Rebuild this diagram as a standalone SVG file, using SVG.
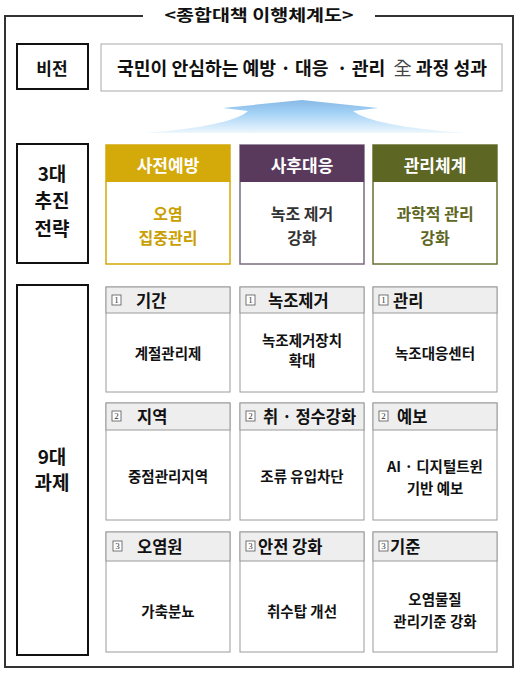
<svg xmlns="http://www.w3.org/2000/svg" width="530" height="675" viewBox="0 0 530 675">
<defs>
<linearGradient id="ag" x1="0" y1="0" x2="0" y2="1">
<stop offset="0" stop-color="#86b9e6"/>
<stop offset="0.4" stop-color="#a4d2f6"/>
<stop offset="1" stop-color="#eef7fd"/>
</linearGradient>
<style>
text{font-family:"Noto Sans CJK KR","Noto Sans",sans-serif;font-weight:bold;text-anchor:middle;dominant-baseline:central;fill:#111}
.lab{fill:#fff;stroke:#111;stroke-width:2}
.hd{fill:#eeeeee;stroke:#9a9a9a;stroke-width:1}
.bd{fill:#fff;stroke:#9a9a9a;stroke-width:1}
.ht{font-size:16.5px;text-anchor:start}
.bt{font-size:14.5px}
.nb{fill:#fff;stroke:#555;stroke-width:0.8}
.nt{font-family:"Liberation Serif",serif;font-weight:normal;font-size:9px;fill:#333}
.st{font-size:17px;fill:#fff}
.sb{font-size:16px}
</style>
</defs>
<rect width="530" height="675" fill="#fff"/>
<g id="frame">
<path d="M143,16 H5 V667 H513 V16 H375" fill="none" stroke="#333" stroke-width="2"/>
<text x="259" y="14" font-size="16" textLength="189" lengthAdjust="spacingAndGlyphs">&lt;종합대책 이행체계도&gt;</text>
</g>
<g id="vision-label">
<rect class="lab" x="17" y="44" width="71" height="45"/>
<text x="52" y="67" font-size="17">비전</text>
</g>
<g id="vision">
<rect x="101" y="44" width="401" height="47" fill="#fff" stroke="#aaa" stroke-width="1"/>
<text x="302" y="67" font-size="18" textLength="370" lengthAdjust="spacingAndGlyphs" xml:space="preserve">국민이 안심하는 예방 · 대응  · 관리  <tspan font-weight="normal" fill="#444">全</tspan> 과정 성과</text>
</g>
<g id="arrow">
<path d="M302,100 L223,108 L248,111 Q232,126 145,133 L465,133 Q372,126 353,111 L378,108 Z" fill="url(#ag)"/>
</g>
<g id="strategy-label">
<rect class="lab" x="17" y="144" width="71" height="119"/>
<text x="52" y="172" font-size="19">3대</text>
<text x="52" y="199" font-size="19">추진</text>
<text x="52" y="227" font-size="19">전략</text>
</g>
<g id="s1">
<rect x="106" y="145" width="124" height="119" fill="#fff" stroke="#d4a90a" stroke-width="1.5"/>
<rect x="106" y="145" width="124" height="37" fill="#d4a90a"/>
<text class="st" x="168" y="164">사전예방</text>
<text class="sb" x="168" y="213" style="fill:#c9a000">오염</text>
<text class="sb" x="168" y="237" style="fill:#c9a000">집중관리</text>
</g>
<g id="s2">
<rect x="240" y="145" width="124" height="119" fill="#fff" stroke="#7a6a80" stroke-width="1.5"/>
<rect x="240" y="145" width="124" height="37" fill="#5a3a5c"/>
<text class="st" x="302" y="164">사후대응</text>
<text class="sb" x="302" y="213" style="fill:#333">녹조 제거</text>
<text class="sb" x="302" y="237" style="fill:#333">강화</text>
</g>
<g id="s3">
<rect x="373" y="145" width="124" height="119" fill="#fff" stroke="#6b7030" stroke-width="1.5"/>
<rect x="373" y="145" width="124" height="37" fill="#5e6623"/>
<text class="st" x="435" y="164">관리체계</text>
<text class="sb" x="435" y="213" style="fill:#5e6623">과학적 관리</text>
<text class="sb" x="435" y="237" style="fill:#5e6623">강화</text>
</g>
<g id="task-label">
<rect class="lab" x="17" y="285" width="71" height="370"/>
<text x="52" y="455" font-size="19">9대</text>
<text x="52" y="481" font-size="19">과제</text>
</g>
<!-- row 1 -->
<g id="t11">
<rect class="bd" x="106" y="287" width="124" height="105"/>
<rect class="hd" x="106" y="287" width="124" height="26"/>
<rect class="nb" x="112" y="295" width="9" height="10"/><text class="nt" x="116.5" y="300">1</text>
<text class="ht" x="136" y="300">기간</text>
<text class="bt" x="168" y="352">계절관리제</text>
</g>
<g id="t12">
<rect class="bd" x="240" y="287" width="124" height="105"/>
<rect class="hd" x="240" y="287" width="124" height="26"/>
<rect class="nb" x="246" y="295" width="9" height="10"/><text class="nt" x="250.5" y="300">1</text>
<text class="ht" x="268" y="300">녹조제거</text>
<text class="bt" x="302" y="339">녹조제거장치</text>
<text class="bt" x="302" y="359">확대</text>
</g>
<g id="t13">
<rect class="bd" x="373" y="287" width="124" height="105"/>
<rect class="hd" x="373" y="287" width="124" height="26"/>
<rect class="nb" x="379" y="295" width="9" height="10"/><text class="nt" x="383.5" y="300">1</text>
<text class="ht" x="393" y="300">관리</text>
<text class="bt" x="435" y="352">녹조대응센터</text>
</g>
<!-- row 2 -->
<g id="t21">
<rect class="bd" x="106" y="403" width="124" height="117"/>
<rect class="hd" x="106" y="403" width="124" height="27"/>
<rect class="nb" x="112" y="411" width="9" height="10"/><text class="nt" x="116.5" y="416">2</text>
<text class="ht" x="137" y="416">지역</text>
<text class="bt" x="168" y="475">중점관리지역</text>
</g>
<g id="t22">
<rect class="bd" x="240" y="403" width="124" height="117"/>
<rect class="hd" x="240" y="403" width="124" height="27"/>
<rect class="nb" x="246" y="411" width="9" height="10"/><text class="nt" x="250.5" y="416">2</text>
<text class="ht" x="263" y="416">취 · 정수강화</text>
<text class="bt" x="302" y="475">조류 유입차단</text>
</g>
<g id="t23">
<rect class="bd" x="373" y="403" width="124" height="117"/>
<rect class="hd" x="373" y="403" width="124" height="27"/>
<rect class="nb" x="379" y="411" width="9" height="10"/><text class="nt" x="383.5" y="416">2</text>
<text class="ht" x="397" y="416">예보</text>
<text class="bt" x="435" y="465">AI · 디지털트윈</text>
<text class="bt" x="435" y="487">기반 예보</text>
</g>
<!-- row 3 -->
<g id="t31">
<rect class="bd" x="106" y="532" width="124" height="120"/>
<rect class="hd" x="106" y="532" width="124" height="29"/>
<rect class="nb" x="113" y="541" width="9" height="10"/><text class="nt" x="117.5" y="546">3</text>
<text class="ht" x="137" y="546">오염원</text>
<text class="bt" x="168" y="610">가축분뇨</text>
</g>
<g id="t32">
<rect class="bd" x="240" y="532" width="124" height="120"/>
<rect class="hd" x="240" y="532" width="124" height="29"/>
<rect class="nb" x="246" y="541" width="9" height="10"/><text class="nt" x="250.5" y="546">3</text>
<text class="ht" x="258" y="546">안전 강화</text>
<text class="bt" x="302" y="610">취수탑 개선</text>
</g>
<g id="t33">
<rect class="bd" x="373" y="532" width="124" height="120"/>
<rect class="hd" x="373" y="532" width="124" height="29"/>
<rect class="nb" x="379" y="541" width="9" height="10"/><text class="nt" x="383.5" y="546">3</text>
<text class="ht" x="390" y="546">기준</text>
<text class="bt" x="435" y="598">오염물질</text>
<text class="bt" x="435" y="620">관리기준 강화</text>
</g>
<g id="connectors"></g>
</svg>
